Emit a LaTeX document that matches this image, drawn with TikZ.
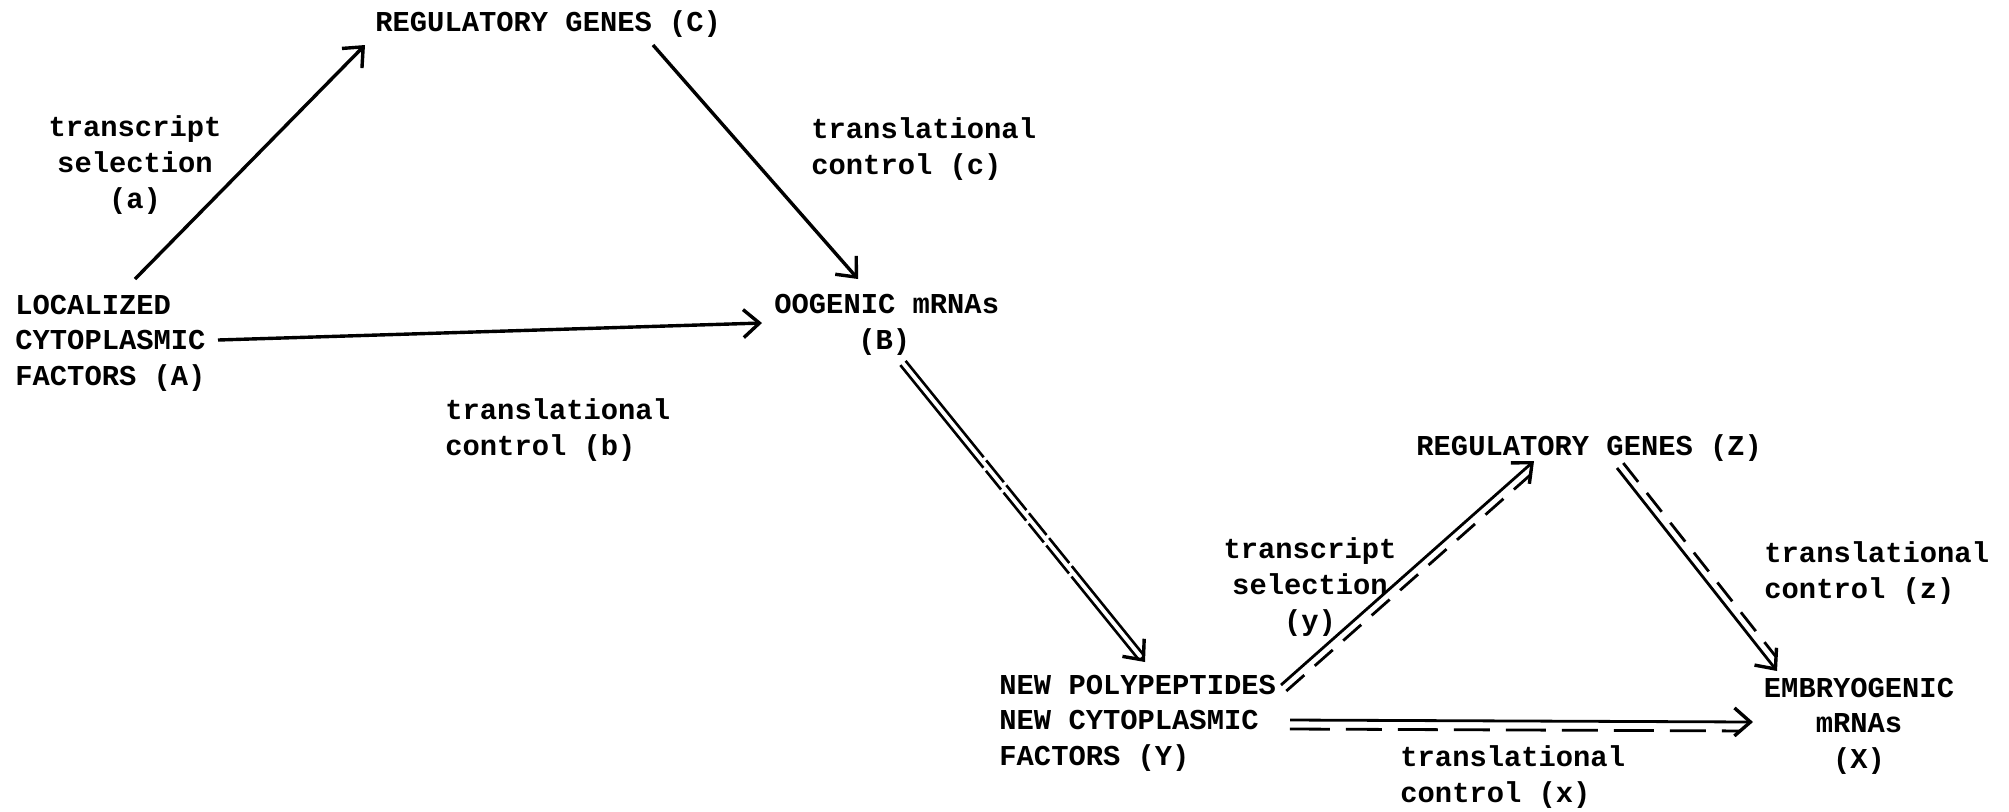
\documentclass[tikz,border=0pt]{standalone}
\usepackage{fontspec}
\setmainfont{Liberation Mono}
\usetikzlibrary{arrows.meta,calc}
\begin{document}
\begin{tikzpicture}[x=0.5pt,y=-0.5pt,
  lab/.style={inner sep=0pt, font=\fontsize{14.4}{17.8}\selectfont\bfseries},
  conn/.style={line width=1.7pt, -{Straight Barb[length=8pt,width=14pt,line width=1.7pt]}},
  twin/.style={line width=1.3pt},
  dashtwin/.style={line width=1.4pt, dash pattern=on 12pt off 7pt},
]
\useasboundingbox (0,0) rectangle (2009,811);
% nodes
\node[lab, anchor=west] (C) at (375,24) {REGULATORY GENES (C)};
\node[lab, align=center] (la) at (135,165) {transcript\\selection\\(a)};
\node[lab, anchor=west, align=left] (lc) at (811,149) {translational\\control (c)};
\node[lab, anchor=west, align=left] (A) at (15,343) {LOCALIZED\\CYTOPLASMIC\\FACTORS (A)};
\node[lab, anchor=west, align=left] (B) at (774,325) {OOGENIC mRNAs\\\hspace*{42pt}(B)};
\node[lab, anchor=west, align=left] (lb) at (445,430) {translational\\control (b)};
\node[lab, anchor=west] (Z) at (1416,448) {REGULATORY GENES (Z)};
\node[lab, align=center] (ly) at (1310,587) {transcript\\selection\\(y)};
\node[lab, anchor=west, align=left] (lz) at (1764,573) {translational\\control (z)};
\node[lab, anchor=west, align=left] (Y) at (999,723) {NEW POLYPEPTIDES\\NEW CYTOPLASMIC\\FACTORS (Y)};
\node[lab, align=center] (X) at (1859,726) {EMBRYOGENIC\\mRNAs\\(X)};
\node[lab, anchor=west, align=left] (lx) at (1400,777) {translational\\control (x)};
% connector end points
\coordinate (ac1) at ([shift={(120,-64)}]A.west);
\coordinate (ac2) at ([shift={(-10,21)}]C.west);
\coordinate (cb1) at ([shift={(278,21)}]C.west);
\coordinate (cb2) at ([shift={(84,-46)}]B.west);
\coordinate (ab1) at ([shift={(203,-3)}]A.west);
\coordinate (ab2) at ([shift={(-12,-2)}]B.west);
\coordinate (by1) at ([shift={(129,38)}]B.west);
\coordinate (by2) at ([shift={(146,-61)}]Y.west);
\coordinate (yz1) at ([shift={(282,-38)}]Y.west);
\coordinate (yz2) at ([shift={(118,13)}]Z.west);
\coordinate (zx1) at ([shift={(201,20)}]Z.west);
\coordinate (zx2) at ([shift={(-82,-55)}]X.center);
\coordinate (yx1) at ([shift={(291,-3)}]Y.west);
\coordinate (yx2) at ([shift={(-106,-4)}]X.center);
% upper triangle
\draw[conn] (ac1) -- (ac2);
\draw[conn] (cb1) -- (cb2);
\draw[conn] (ab1) -- (ab2);
% B -> Y double line, broken in the middle
\draw[twin, shorten >=3pt, dash pattern=on 62pt off 2pt on 14pt off 2pt on 16pt off 2pt on 14pt off 2pt on 16pt off 2pt on 200pt]
  ($(by1)!1.7pt!90:(by2)$) -- ($(by2)!1.7pt!-90:(by1)$);
\draw[twin, shorten >=3pt, dash pattern=on 66pt off 2pt on 12pt off 2pt on 18pt off 2pt on 12pt off 2pt on 18pt off 2pt on 200pt]
  ($(by1)!1.7pt!-90:(by2)$) -- ($(by2)!1.7pt!90:(by1)$);
\draw[conn, line width=1.3pt] ($(by2)!3pt!(by1)$) -- (by2);
% Y -> Z : solid + dashed
\draw[conn, line width=1.4pt] (yz1) -- (yz2);
\draw[dashtwin, shorten >=6pt] ($(yz1)!4pt!-90:(yz2)$) -- ($(yz2)!4pt!90:(yz1)$);
% Z -> X : solid + dashed
\draw[conn, line width=1.4pt] (zx1) -- (zx2);
\draw[dashtwin, shorten >=6pt] ($(zx1)!4pt!90:(zx2)$) -- ($(zx2)!4pt!-90:(zx1)$);
% Y -> X : solid + dashed
\draw[conn, line width=1.4pt] (yx1) -- (yx2);
\draw[dashtwin, dash pattern=on 20pt off 8pt on 18pt off 8pt, shorten >=6pt] ($(yx1)!4.5pt!-90:(yx2)$) -- ($(yx2)!4.5pt!90:(yx1)$);
\end{tikzpicture}
\end{document}
